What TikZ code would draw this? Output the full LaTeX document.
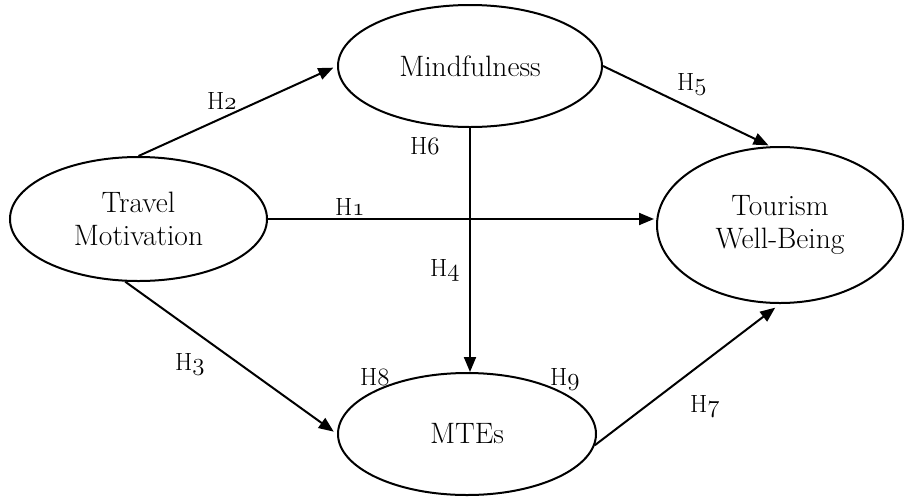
\documentclass[tikz,border=0pt]{standalone}
\usetikzlibrary{shapes.geometric,arrows.meta}
\newcommand\osf[1]{\ensuremath{\mathgroup\symletters #1}}
\begin{document}
\begin{tikzpicture}[x=1pt,y=-1pt,
  every node/.style={font=\fontsize{24.88}{31}\selectfont},
  construct/.style={draw, ellipse, line width=2pt, inner sep=0pt, align=center,
    font=\fontsize{29.5}{33}\selectfont},
  hyp/.style={anchor=base west, inner sep=0pt},
  link/.style={line width=2pt, -{Triangle[length=15pt,width=12pt]}}]
\useasboundingbox (0,0) rectangle (905,496);
\node[construct, minimum width=257pt, minimum height=124pt] (tm) at (138.5,219) {Travel\\Motivation};
\node[construct, minimum width=264pt, minimum height=122pt] (mind) at (470,66) {Mindfulness};
\node[construct, minimum width=258pt, minimum height=122pt] (mte) at (467,434) {MTEs};
\node[construct, minimum width=246pt, minimum height=156pt] (twb) at (780,225) {Tourism\\Well-Being};
% connectors
\draw[link, shorten >=4pt] (tm.north) -- (mind.west);
\draw[link, shorten >=2pt] (mind.east) -- (twb.97);
\draw[link, shorten >=2pt] (tm.east) -- (tm.east -| twb.west);
\draw[link] (mind.south) -- (mind.south |- mte.north);
\draw[link, shorten >=4pt] (tm.258) -- (mte.west);
\draw[link, shorten >=6pt] (mte.355) -- (twb.south);
% hypothesis labels
\node[hyp] (h1) at (335,215) {H\osf{1}};
\node[hyp] (h2) at (207,109) {H\osf{2}};
\node[hyp] (h3) at (175,370) {H\osf{3}};
\node[hyp] (h4) at (430,276) {H\osf{4}};
\node[hyp] (h5) at (677,90) {H\osf{5}};
\node[hyp] (h6) at (410,154) {H\osf{6}};
\node[hyp] (h7) at (690,412) {H\osf{7}};
\node[hyp] (h8) at (360,385) {H\osf{8}};
\node[hyp] (h9) at (550,385) {H\osf{9}};
\end{tikzpicture}
\end{document}
